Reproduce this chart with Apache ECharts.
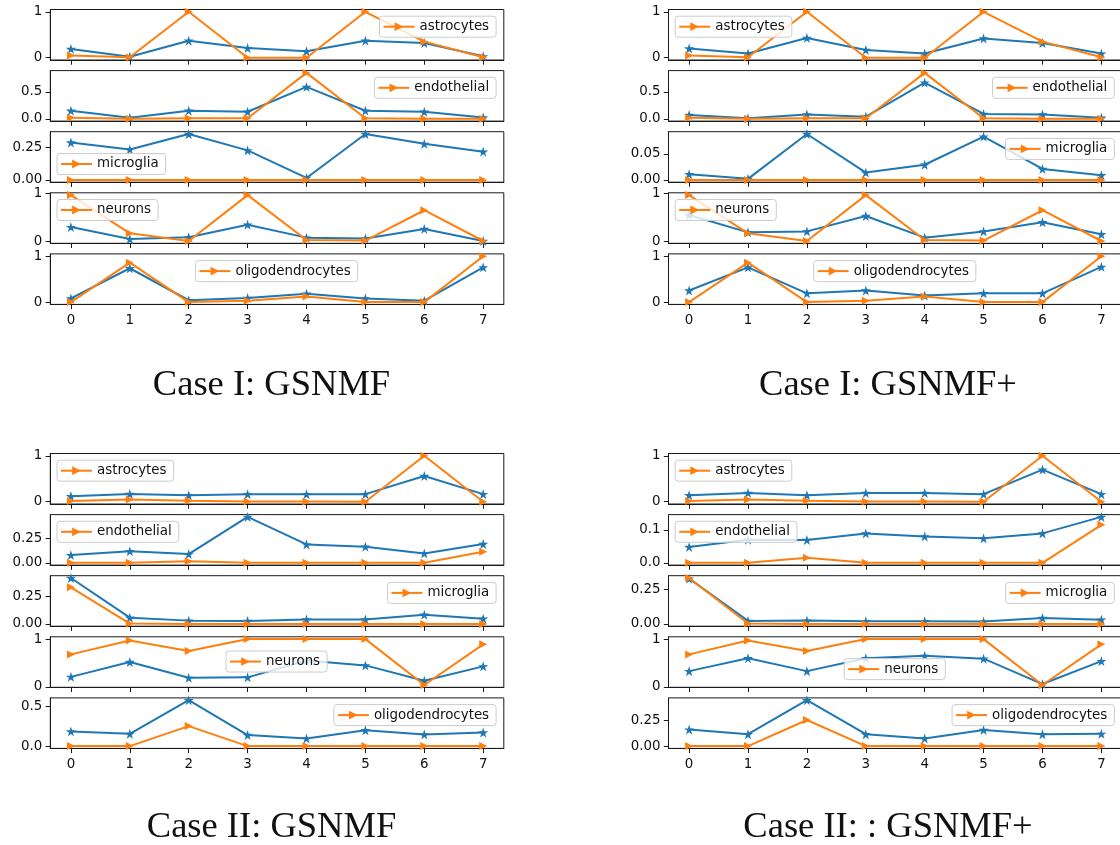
<!DOCTYPE html>
<html>
<head>
<meta charset="utf-8">
<script src="https://cdn.jsdelivr.net/npm/echarts@6/dist/echarts.min.js"></script>
<style>
  html, body { margin: 0; padding: 0; background: #ffffff; }
  #chart { width: 1120px; height: 845px; }
</style>
</head>
<body>
<div id="chart"></div>
<script>
// ---- data -----------------------------------------------------------------
const xCategories = [0, 1, 2, 3, 4, 5, 6, 7];
const cellTypes = ['astrocytes', 'endothelial', 'microglia', 'neurons', 'oligodendrocytes'];
const panelTitles = ['Case I: GSNMF', 'Case I: GSNMF+', 'Case II: GSNMF', 'Case II: : GSNMF+'];

// Case I reference proportions (orange)
const caseITrueAstrocytes       = [0.05, 0.01, 1.00, 0.00, 0.00, 1.00, 0.35, 0.01];
const caseITrueEndothelial      = [0.02, 0.00, 0.01, 0.01, 0.85, 0.01, 0.00, 0.00];
const caseITrueMicroglia        = [0.00, 0.00, 0.00, 0.00, 0.00, 0.00, 0.00, 0.00];
const caseITrueNeurons          = [0.965, 0.17, 0.01, 0.965, 0.03, 0.02, 0.65, 0.01];
const caseITrueOligodendrocytes = [0.01, 0.86, 0.01, 0.04, 0.13, 0.01, 0.01, 1.00];

// Case I, GSNMF estimates (blue)
const caseIGsnmfAstrocytes       = [0.19, 0.02, 0.37, 0.21, 0.14, 0.37, 0.32, 0.03];
const caseIGsnmfEndothelial      = [0.15, 0.02, 0.15, 0.13, 0.59, 0.15, 0.13, 0.025];
const caseIGsnmfMicroglia        = [0.285, 0.232, 0.35, 0.225, 0.015, 0.35, 0.275, 0.215];
const caseIGsnmfNeurons          = [0.30, 0.05, 0.09, 0.35, 0.08, 0.06, 0.26, 0.01];
const caseIGsnmfOligodendrocytes = [0.09, 0.74, 0.05, 0.10, 0.19, 0.09, 0.04, 0.76];

// Case I, GSNMF+ estimates (blue)
const caseIPlusAstrocytes       = [0.20, 0.09, 0.43, 0.17, 0.09, 0.42, 0.32, 0.09];
const caseIPlusEndothelial      = [0.07, 0.01, 0.08, 0.04, 0.67, 0.09, 0.08, 0.02];
const caseIPlusMicroglia        = [0.011, 0.002, 0.088, 0.014, 0.029, 0.083, 0.021, 0.009];
const caseIPlusNeurons          = [0.55, 0.19, 0.21, 0.53, 0.08, 0.21, 0.40, 0.15];
const caseIPlusOligodendrocytes = [0.26, 0.76, 0.20, 0.26, 0.15, 0.20, 0.20, 0.77];

// Case II reference proportions (orange)
const caseIITrueAstrocytes       = [0.015, 0.05, 0.02, 0.005, 0.005, 0.00, 1.00, 0.00];
const caseIITrueEndothelial      = [0.00, 0.00, 0.015, 0.00, 0.00, 0.00, 0.00, 0.115];
const caseIITrueMicroglia        = [0.335, 0.003, 0.00, 0.00, 0.00, 0.00, 0.00, 0.00];
const caseIITrueNeurons          = [0.68, 0.97, 0.75, 1.00, 1.00, 1.00, 0.04, 0.89];
const caseIITrueOligodendrocytes = [0.00, 0.00, 0.253, 0.00, 0.00, 0.00, 0.00, 0.00];

// Case II, GSNMF estimates (blue)
const caseIIGsnmfAstrocytes       = [0.12, 0.17, 0.14, 0.165, 0.165, 0.165, 0.56, 0.165];
const caseIIGsnmfEndothelial      = [0.08, 0.12, 0.09, 0.475, 0.19, 0.167, 0.097, 0.194];
const caseIIGsnmfMicroglia        = [0.42, 0.057, 0.03, 0.027, 0.04, 0.04, 0.084, 0.048];
const caseIIGsnmfNeurons          = [0.21, 0.52, 0.19, 0.20, 0.55, 0.45, 0.13, 0.43];
const caseIIGsnmfOligodendrocytes = [0.185, 0.155, 0.58, 0.14, 0.097, 0.20, 0.147, 0.172];

// Case II, GSNMF+ estimates (blue)
const caseIIPlusAstrocytes       = [0.14, 0.19, 0.14, 0.19, 0.19, 0.165, 0.70, 0.165];
const caseIIPlusEndothelial      = [0.048, 0.07, 0.069, 0.089, 0.08, 0.074, 0.089, 0.139];
const caseIIPlusMicroglia        = [0.33, 0.022, 0.024, 0.019, 0.019, 0.017, 0.043, 0.031];
const caseIIPlusNeurons          = [0.33, 0.60, 0.33, 0.60, 0.65, 0.59, 0.06, 0.54];
const caseIIPlusOligodendrocytes = [0.16, 0.115, 0.445, 0.115, 0.074, 0.157, 0.115, 0.119];

// y tick labels, one pair per subplot
const caseIGsnmfTicks  = [['0', '1'], ['0.0', '0.5'], ['0.00', '0.25'], ['0', '1'], ['0', '1']];
const caseIPlusTicks   = [['0', '1'], ['0.0', '0.5'], ['0.00', '0.05'], ['0', '1'], ['0', '1']];
const caseIIGsnmfTicks = [['0', '1'], ['0.00', '0.25'], ['0.00', '0.25'], ['0', '1'], ['0.0', '0.5']];
const caseIIPlusTicks  = [['0', '1'], ['0.0', '0.1'], ['0.00', '0.25'], ['0', '1'], ['0.00', '0.25']];

// ---- layout ---------------------------------------------------------------
const COL_LEFT = [50.3, 668.5];
const ROW_TOP = [9.5, 453.5];
const PLOT_W = 453.5;
const PLOT_H = 50.5;
const PITCH = 61.1;
const TITLE_X = [271.5, 888];
const TITLE_TOP = [367, 809];

// legend anchor inside each subplot: u/c/l (vertical) + l/c/r (horizontal)
const legendSpots = [
  ['ur', 'ur', 'll', 'ul', 'uc'],
  ['ul', 'ur', 'ur', 'ul', 'uc'],
  ['ul', 'ul', 'ur', 'cc', 'ur'],
  ['ul', 'ul', 'ur', 'lc', 'ur']
];

const BLUE = '#1f77b4';
const ORANGE = '#ff7f0e';
const INK = '#1a1a1a';
const FONT = 'DejaVu Sans';
const FONT_SIZE = 13.4;
const STAR = 'path://M50,2 L61.2,36.6 L97.6,36.6 L68.2,58 L79.4,92.6 L50,71.2 L20.6,92.6 L31.8,58 L2.4,36.6 L38.8,36.6 Z';
const TRI_RIGHT = 'path://M0,0 L10,5 L0,10 Z';

const LEG_PAD = [4, 7, 4, 3];
const LEG_ICON_W = 31;
const LEG_ICON_H = 11;
const LEG_H = 22;
const LEG_INSET = 6.7;

const panels = [
  {
    title: panelTitles[0], ticks: caseIGsnmfTicks,
    est: [caseIGsnmfAstrocytes, caseIGsnmfEndothelial, caseIGsnmfMicroglia, caseIGsnmfNeurons, caseIGsnmfOligodendrocytes],
    truth: [caseITrueAstrocytes, caseITrueEndothelial, caseITrueMicroglia, caseITrueNeurons, caseITrueOligodendrocytes]
  },
  {
    title: panelTitles[1], ticks: caseIPlusTicks,
    est: [caseIPlusAstrocytes, caseIPlusEndothelial, caseIPlusMicroglia, caseIPlusNeurons, caseIPlusOligodendrocytes],
    truth: [caseITrueAstrocytes, caseITrueEndothelial, caseITrueMicroglia, caseITrueNeurons, caseITrueOligodendrocytes]
  },
  {
    title: panelTitles[2], ticks: caseIIGsnmfTicks,
    est: [caseIIGsnmfAstrocytes, caseIIGsnmfEndothelial, caseIIGsnmfMicroglia, caseIIGsnmfNeurons, caseIIGsnmfOligodendrocytes],
    truth: [caseIITrueAstrocytes, caseIITrueEndothelial, caseIITrueMicroglia, caseIITrueNeurons, caseIITrueOligodendrocytes]
  },
  {
    title: panelTitles[3], ticks: caseIIPlusTicks,
    est: [caseIIPlusAstrocytes, caseIIPlusEndothelial, caseIIPlusMicroglia, caseIIPlusNeurons, caseIIPlusOligodendrocytes],
    truth: [caseIITrueAstrocytes, caseIITrueEndothelial, caseIITrueMicroglia, caseIITrueNeurons, caseIITrueOligodendrocytes]
  }
];

// ---- helpers --------------------------------------------------------------
const measureCtx = document.createElement('canvas').getContext('2d');
measureCtx.font = FONT_SIZE + 'px "' + FONT + '"';
function textWidth(s) { return measureCtx.measureText(s).width; }

function legendPosition(spot, gLeft, gTop, name) {
  const w = LEG_PAD[3] + LEG_ICON_W + 5 + textWidth(name) + LEG_PAD[1] + 2;
  let x, y;
  if (spot[0] === 'u') y = gTop + LEG_INSET;
  else if (spot[0] === 'l') y = gTop + PLOT_H - LEG_INSET - LEG_H;
  else y = gTop + PLOT_H / 2 - LEG_H / 2;
  if (spot[1] === 'l') x = gLeft + LEG_INSET;
  else if (spot[1] === 'r') x = gLeft + PLOT_W - LEG_INSET - w;
  else x = gLeft + PLOT_W / 2 - w / 2;
  return { left: x, top: y };
}

const xMinData = Math.min(...xCategories), xMaxData = Math.max(...xCategories);
const xPad = (xMaxData - xMinData) * 0.05;

const grids = [], xAxes = [], yAxes = [], series = [], legends = [], titles = [];

panels.forEach((p, pi) => {
  const col = pi % 2, row = Math.floor(pi / 2);
  const gLeft = COL_LEFT[col];

  titles.push({
    text: p.title,
    left: TITLE_X[col],
    top: TITLE_TOP[row],
    textAlign: 'center',
    padding: 0,
    textStyle: { fontFamily: 'Liberation Serif', fontSize: 36.5, fontWeight: 'normal', color: '#111111' }
  });

  for (let k = 0; k < cellTypes.length; k++) {
    const idx = grids.length;
    const gTop = ROW_TOP[row] + k * PITCH;
    const est = p.est[k], truth = p.truth[k];
    const all = est.concat(truth);
    const lo = Math.min(...all), hi = Math.max(...all);
    const yPad = (hi - lo) * 0.05;
    const tickLabels = p.ticks[k];
    const tickValues = tickLabels.map(Number);
    const isBottom = k === cellTypes.length - 1;

    grids.push({
      left: gLeft, top: gTop, width: PLOT_W, height: PLOT_H,
      show: true, borderColor: INK, borderWidth: 1, backgroundColor: 'transparent',
      outerBoundsMode: 'none', containLabel: false
    });

    xAxes.push({
      gridIndex: idx, type: 'value',
      min: xMinData - xPad, max: xMaxData + xPad,
      axisLine: { show: true, onZero: false, lineStyle: { color: INK, width: 1 } },
      axisTick: { show: true, length: 4.7, inside: false, customValues: xCategories, lineStyle: { color: INK, width: 1 } },
      axisLabel: {
        show: isBottom, customValues: xCategories, margin: 9.5,
        fontFamily: FONT, fontSize: FONT_SIZE, color: '#111111',
        formatter: v => String(v)
      },
      splitLine: { show: false }
    });

    yAxes.push({
      gridIndex: idx, type: 'value',
      min: lo - yPad, max: hi + yPad,
      axisLine: { show: true, onZero: false, lineStyle: { color: INK, width: 1 } },
      axisTick: { show: true, length: 4.7, inside: false, customValues: tickValues, lineStyle: { color: INK, width: 1 } },
      axisLabel: {
        show: true, customValues: tickValues, margin: 8,
        fontFamily: FONT, fontSize: FONT_SIZE, color: '#111111',
        formatter: v => {
          const hit = tickLabels.find(s => Math.abs(Number(s) - v) < 1e-9);
          return hit !== undefined ? hit : String(v);
        }
      },
      splitLine: { show: false }
    });

    series.push({
      type: 'line', name: cellTypes[k] + ' (estimated)',
      xAxisIndex: idx, yAxisIndex: idx,
      data: xCategories.map((x, i) => [x, est[i]]),
      symbol: STAR, symbolSize: 10, showSymbol: true,
      lineStyle: { color: BLUE, width: 2 },
      itemStyle: { color: BLUE },
      z: 2, animation: false, silent: true
    });
    series.push({
      type: 'line', name: cellTypes[k],
      xAxisIndex: idx, yAxisIndex: idx,
      data: xCategories.map((x, i) => [x, truth[i]]),
      symbol: TRI_RIGHT, symbolSize: 8, showSymbol: true,
      lineStyle: { color: ORANGE, width: 2 },
      itemStyle: { color: ORANGE },
      z: 3, animation: false, silent: true
    });

    const pos = legendPosition(legendSpots[pi][k], gLeft, gTop, cellTypes[k]);
    legends.push({
      data: [cellTypes[k]],
      left: pos.left, top: pos.top,
      orient: 'horizontal',
      itemWidth: LEG_ICON_W, itemHeight: LEG_ICON_H, itemGap: 0,
      padding: LEG_PAD,
      backgroundColor: 'rgba(255,255,255,0.8)',
      borderColor: '#cccccc', borderWidth: 1, borderRadius: 3,
      selectedMode: false,
      textStyle: { fontFamily: FONT, fontSize: FONT_SIZE, color: '#111111' },
      z: 6
    });
  }
});

const chart = echarts.init(document.getElementById('chart'), null, { renderer: 'canvas', width: 1120, height: 845 });
chart.setOption({
  animation: false,
  backgroundColor: '#ffffff',
  textStyle: { fontFamily: FONT },
  title: titles,
  grid: grids,
  xAxis: xAxes,
  yAxis: yAxes,
  legend: legends,
  series: series
});
</script>
</body>
</html>
